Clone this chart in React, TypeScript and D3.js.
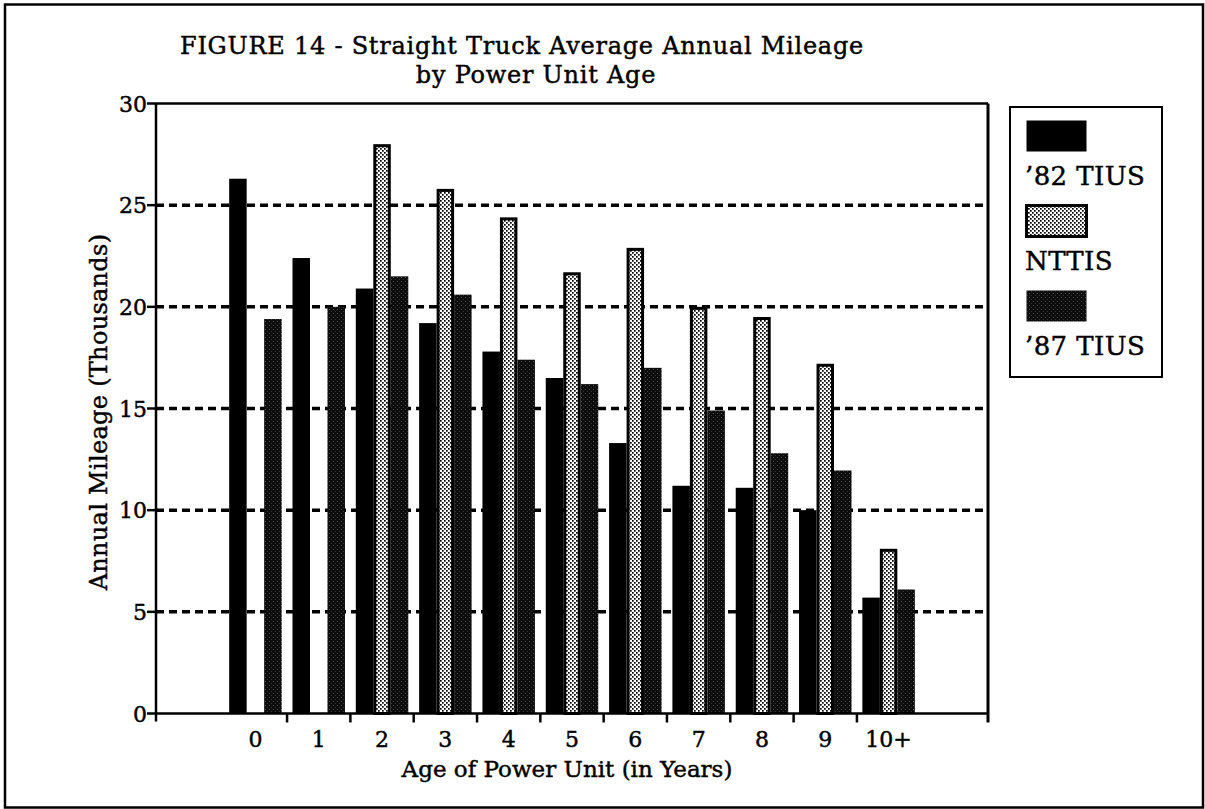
import React from "react";
import * as d3 from "d3";

const categories = ["0", "1", "2", "3", "4", "5", "6", "7", "8", "9", "10+"];
const tius82 = [26.3, 22.4, 20.9, 19.2, 17.8, 16.5, 13.3, 11.2, 11.1, 10.0, 5.7];
const nttis: (number | null)[] = [null, null, 28.0, 25.8, 24.4, 21.7, 22.9, 20.0, 19.5, 17.2, 8.1];
const tius87 = [19.4, 20.0, 21.5, 20.6, 17.4, 16.2, 17.0, 14.9, 12.8, 11.95, 6.1];
const seriesNames = ["\u201982 TIUS", "NTTIS", "\u201987 TIUS"];
const yTicks = [0, 5, 10, 15, 20, 25, 30];
const gridValues = [5, 10, 15, 20, 25];
const titleLines = ["FIGURE 14 - Straight Truck Average Annual Mileage", "by Power Unit Age"];
const xTitle = "Age of Power Unit (in Years)";
const yTitle = "Annual Mileage (Thousands)";

const W = 1205;
const H = 809;
const FONT = "'DejaVu Serif', serif";

export default function App() {
  const left = 156, right = 988, top = 103.5, bottom = 713.5;
  const x = d3.scaleBand<string>().domain(categories).range([left, right]).paddingOuter(1.07).paddingInner(0);
  const xs = d3.scaleBand<string>().domain(["a", "b", "c"]).range([0, x.step()]).paddingOuter(0.31).paddingInner(0);
  const y = d3.scaleLinear().domain([0, 30]).range([bottom, top]);
  const bw = xs.bandwidth();

  const fills = ["#000", "url(#lightDots)", "url(#darkDots)"];
  const series = [tius82, nttis, tius87];
  const keys = ["a", "b", "c"];

  const boundaryTicks = categories.slice(1).map((c) => x(c)!);
  const txt = { stroke: "#000", strokeWidth: 0.45 } as const;

  return (
    <svg width={W} height={H} style={{ position: "absolute", left: 0, top: 0, background: "#fff" }} fontFamily={FONT}>
      <defs>
        <pattern id="lightDots" width="4" height="4" patternUnits="userSpaceOnUse">
          <rect width="4" height="4" fill="#fff" />
          <rect x="0" y="0" width="1.7" height="1.7" fill="#000" />
          <rect x="2" y="2" width="1.7" height="1.7" fill="#000" />
        </pattern>
        <pattern id="darkDots" width="4" height="4" patternUnits="userSpaceOnUse">
          <rect width="4" height="4" fill="#0c0c0c" />
          <rect x="1" y="1" width="1" height="1" fill="#5a5a5a" />
          <rect x="3" y="3" width="1" height="1" fill="#3a3a3a" />
        </pattern>
      </defs>

      {/* outer frame */}
      <rect x={5} y={4.5} width={1198} height={803} fill="none" stroke="#000" strokeWidth={2.5} />

      {/* title */}
      <text x={522} y={54} textAnchor="middle" fontSize={24} letterSpacing={0.75} {...txt}>{titleLines[0]}</text>
      <text x={536} y={83} textAnchor="middle" fontSize={24} letterSpacing={0.75} {...txt}>{titleLines[1]}</text>

      {/* gridlines */}
      {gridValues.map((v) => (
        <line key={v} x1={left} x2={right} y1={y(v)} y2={y(v)} stroke="#000" strokeWidth={3.5} strokeDasharray="8,5" />
      ))}

      {/* bars */}
      {series.map((vals, si) =>
        vals.map((v, i) => {
          if (v == null) return null;
          const bx = x(categories[i])! + xs(keys[si])!;
          if (si === 1) {
            return (
              <rect key={`${si}-${i}`} x={bx + 1.5} y={y(v) + 1.5} width={bw - 3} height={bottom - y(v) - 1.5}
                fill={fills[si]} stroke="#000" strokeWidth={3} />
            );
          }
          return <rect key={`${si}-${i}`} x={bx} y={y(v)} width={bw} height={bottom - y(v)} fill={fills[si]} />;
        })
      )}

      {/* plot frame */}
      <line x1={left} x2={right} y1={top} y2={top} stroke="#000" strokeWidth={2.5} />
      <line x1={right} x2={right} y1={top} y2={bottom + 9} stroke="#000" strokeWidth={3} />
      <line x1={left} x2={left} y1={top} y2={bottom + 8} stroke="#000" strokeWidth={2.5} />
      <line x1={left} x2={right} y1={bottom} y2={bottom} stroke="#000" strokeWidth={2.5} />

      {/* y ticks */}
      {yTicks.map((v) => (
        <g key={v}>
          <line x1={left - 9} x2={left} y1={y(v)} y2={y(v)} stroke="#000" strokeWidth={2.5} />
          <text x={left - 9} y={y(v) + 8} textAnchor="end" fontSize={22} {...txt}>{v}</text>
        </g>
      ))}

      {/* x ticks */}
      {boundaryTicks.map((tx, i) => (
        <line key={i} x1={tx} x2={tx} y1={bottom} y2={bottom + 9} stroke="#000" strokeWidth={2.5} />
      ))}
      {categories.map((c) => (
        <text key={c} x={x(c)! + x.bandwidth() / 2} y={747} textAnchor="middle" fontSize={22} {...txt}>{c}</text>
      ))}

      {/* axis titles */}
      <text x={567} y={777} textAnchor="middle" fontSize={23} {...txt}>{xTitle}</text>
      <text transform={`translate(107, ${412}) rotate(-90)`} textAnchor="middle" fontSize={24} letterSpacing={0.3} {...txt}>{yTitle}</text>

      {/* legend */}
      <rect x={1010} y={107} width={152} height={270} fill="#fff" stroke="#000" strokeWidth={2} />
      {seriesNames.map((name, i) => {
        const sy = 119 + i * 85;
        return (
          <g key={name}>
            <rect x={1026.5} y={sy + 1.5} width={60} height={31} fill={fills[i]} stroke="#000" strokeWidth={i === 1 ? 3 : 0} />
            <text x={1025} y={sy + 66} fontSize={26} letterSpacing={0.4} {...txt}>{name}</text>
          </g>
        );
      })}
    </svg>
  );
}
